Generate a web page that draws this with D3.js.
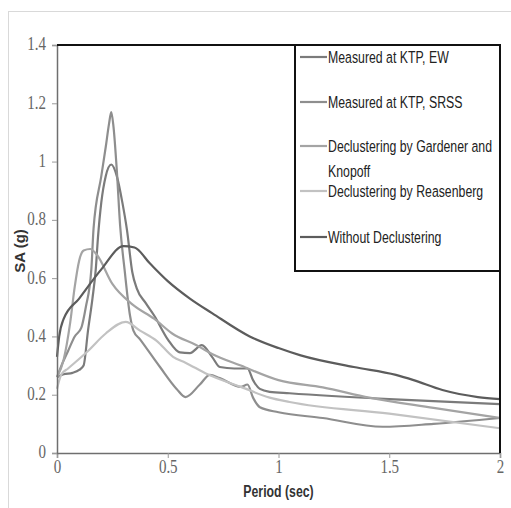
<!DOCTYPE html>
<html>
<head>
<meta charset="utf-8">
<script src="https://cdn.jsdelivr.net/npm/d3@7"></script>
<style>
  body { margin: 0; background: #fff; }
</style>
</head>
<body>
<div class="canvas"></div>
<script>
// periods (sec) and SA (g), one pair per series
const ewT  = [0, 0.03, 0.07, 0.1, 0.12, 0.14, 0.16, 0.175, 0.185, 0.2, 0.22, 0.245, 0.27, 0.295, 0.316, 0.34, 0.36, 0.4, 0.44, 0.5, 0.555, 0.6, 0.654, 0.7, 0.735, 0.8, 0.86, 0.885, 0.916, 0.96, 1.05, 1.5, 2.0];
const ewSA = [0.26, 0.27, 0.275, 0.285, 0.30, 0.42, 0.53, 0.63, 0.74, 0.86, 0.95, 0.99, 0.95, 0.86, 0.765, 0.62, 0.565, 0.515, 0.47, 0.39, 0.345, 0.343, 0.37, 0.33, 0.295, 0.29, 0.29, 0.25, 0.22, 0.21, 0.205, 0.185, 0.168];

const srssT  = [0, 0.02, 0.05, 0.08, 0.11, 0.13, 0.155, 0.165, 0.2, 0.22, 0.235, 0.245, 0.255, 0.27, 0.285, 0.305, 0.33, 0.345, 0.375, 0.465, 0.54, 0.58, 0.645, 0.69, 0.735, 0.83, 0.86, 0.885, 0.916, 1.0, 1.2, 1.47, 1.7, 2.0];
const srssSA = [0.26, 0.30, 0.35, 0.40, 0.43, 0.50, 0.63, 0.77, 0.95, 1.05, 1.13, 1.17, 1.12, 0.97, 0.78, 0.63, 0.47, 0.42, 0.39, 0.295, 0.22, 0.192, 0.235, 0.268, 0.257, 0.227, 0.235, 0.19, 0.157, 0.14, 0.12, 0.09, 0.10, 0.12];

const gkT  = [0, 0.03, 0.06, 0.08, 0.1, 0.12, 0.15, 0.18, 0.25, 0.34, 0.44, 0.52, 0.63, 0.7, 0.83, 1.0, 1.2, 1.41, 1.7, 2.0];
const gkSA = [0.26, 0.32, 0.45, 0.57, 0.66, 0.695, 0.70, 0.68, 0.58, 0.51, 0.46, 0.41, 0.37, 0.34, 0.30, 0.25, 0.225, 0.19, 0.155, 0.12];

const reT  = [0, 0.02, 0.05, 0.14, 0.22, 0.31, 0.375, 0.45, 0.524, 0.58, 0.68, 0.83, 0.96, 1.05, 1.5, 2.0];
const reSA = [0.22, 0.27, 0.29, 0.35, 0.41, 0.45, 0.42, 0.385, 0.33, 0.31, 0.27, 0.227, 0.19, 0.175, 0.135, 0.085];

const woT  = [0, 0.01, 0.03, 0.1, 0.2, 0.3, 0.35, 0.42, 0.5, 0.6, 0.7, 0.87, 1.0, 1.1, 1.34, 1.53, 1.61, 1.74, 1.9, 2.0];
const woSA = [0.33, 0.40, 0.46, 0.53, 0.63, 0.71, 0.705, 0.65, 0.59, 0.53, 0.48, 0.40, 0.36, 0.335, 0.295, 0.268, 0.25, 0.216, 0.192, 0.185];

const seriesNames = ['Measured at KTP, EW', 'Measured at KTP, SRSS', 'Declustering by Gardener and Knopoff', 'Declustering by Reasenberg', 'Without Declustering'];
const seriesColors = ['#7b7b7b', '#8e8e8e', '#a4a4a4', '#c2c2c2', '#5c5c5c'];
const xTicks = [0, 0.5, 1, 1.5, 2];
const yTicks = [0, 0.2, 0.4, 0.6, 0.8, 1, 1.2, 1.4];

const series = [[ewT, ewSA], [srssT, srssSA], [gkT, gkSA], [reT, reSA], [woT, woSA]]
    .map(([t, v], i) => ({name: seriesNames[i], color: seriesColors[i], pts: t.map((p, j) => [p, v[j]])}));

const svg = d3.select('.canvas')
    .append('svg')
    .attr('width', 511)
    .attr('height', 508);

// light frame round the whole chart
svg.append('rect')
    .attr('x', 8.5).attr('y', 11.5)
    .attr('width', 520).attr('height', 520)
    .attr('fill', 'none')
    .attr('stroke', '#d9d9d9');

const margin = {top: 45, right: 11, bottom: 55, left: 57};
const graphWidth = 511 - margin.left - margin.right;
const graphHeight = 508 - margin.top - margin.bottom;

const graph = svg.append('g')
    .attr('transform', `translate(${margin.left},${margin.top})`);

const x = d3.scaleLinear().domain([0, 2]).range([0, graphWidth]);
const y = d3.scaleLinear().domain([0, 1.4]).range([graphHeight, 0]);

const line = d3.line()
    .x(d => x(d[0]))
    .y(d => y(d[1]))
    .curve(d3.curveMonotoneX);

graph.selectAll('path.series')
    .data(series)
    .enter()
    .append('path')
    .attr('class', 'series')
    .attr('d', d => line(d.pts))
    .attr('fill', 'none')
    .attr('stroke', d => d.color)
    .attr('stroke-width', 2.2);

// axes
const xAxisGroup = graph.append('g').attr('transform', `translate(0,${graphHeight})`);
const yAxisGroup = graph.append('g');

xAxisGroup.call(d3.axisBottom(x).tickValues(xTicks).tickSize(5).tickPadding(6).tickFormat(d3.format('')));
yAxisGroup.call(d3.axisLeft(y).tickValues(yTicks).tickSize(5).tickPadding(6).tickFormat(d3.format('')));

[xAxisGroup, yAxisGroup].forEach(g => {
    g.select('.domain').attr('stroke', '#6f6f6f').attr('stroke-width', 1.5);
    g.selectAll('.tick line').attr('stroke', '#9a9a9a');
    g.selectAll('.tick text')
        .attr('font-family', '"Liberation Serif", "Times New Roman", serif')
        .attr('font-size', 15)
        .attr('fill', '#666');
});
yAxisGroup.selectAll('.tick text').attr('transform', 'scale(1,1.2)').attr('dy', '0.27em');
xAxisGroup.selectAll('.tick text').attr('transform', 'scale(1,1.2)').attr('y', 6);

// black frame on top and right
graph.append('path')
    .attr('d', `M0,0H${graphWidth}V${graphHeight}`)
    .attr('fill', 'none')
    .attr('stroke', '#111')
    .attr('stroke-width', 2);

// axis titles (narrow sans, squeezed to look like the original)
const titleFont = '"Liberation Sans", Arial, sans-serif';
svg.append('text')
    .attr('transform', `translate(${margin.left + graphWidth / 2},497) scale(0.82,1.12)`)
    .attr('text-anchor', 'middle')
    .attr('font-family', titleFont)
    .attr('font-weight', 'bold')
    .attr('font-size', 15)
    .attr('fill', '#333')
    .text('Period (sec)');

svg.append('text')
    .attr('transform', 'translate(25,251) rotate(-90) scale(1,0.98)')
    .attr('text-anchor', 'middle')
    .attr('font-family', titleFont)
    .attr('font-weight', 'bold')
    .attr('font-size', 15)
    .attr('fill', '#333')
    .text('SA (g)');

// legend
const legend = svg.append('g').attr('transform', 'translate(295,45)');
legend.append('rect')
    .attr('width', 205).attr('height', 226)
    .attr('fill', '#fff')
    .attr('stroke', '#111')
    .attr('stroke-width', 2);

const legendY = [12, 57, 101, 146, 192];
const items = legend.selectAll('g.item')
    .data(series)
    .enter()
    .append('g')
    .attr('class', 'item')
    .attr('transform', (d, i) => `translate(0,${legendY[i]})`);

items.append('line')
    .attr('x1', 5).attr('x2', 32)
    .attr('stroke', d => d.color)
    .attr('stroke-width', 2.2);

items.append('text')
    .attr('transform', 'translate(33,0) scale(0.82,1.12)')
    .attr('font-family', titleFont)
    .attr('font-size', 15)
    .attr('fill', '#222')
    .attr('dy', '0.35em')
    .each(function(d) {
        const t = d3.select(this);
        if (d.name.indexOf('Gardener') >= 0) {
            t.append('tspan').attr('x', 0).text('Declustering by Gardener and');
            t.append('tspan').attr('x', 0).attr('dy', '1.49em').text('Knopoff');
        } else {
            t.text(d.name);
        }
    });
</script>
</body>
</html>
